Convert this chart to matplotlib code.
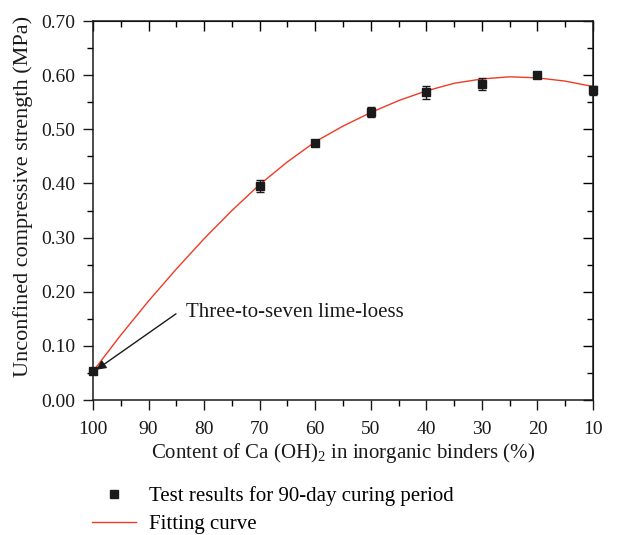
import numpy as np
import matplotlib
matplotlib.use("Agg")
import matplotlib.pyplot as plt
from matplotlib.lines import Line2D
from matplotlib.ticker import MultipleLocator, FormatStrFormatter

plt.rcParams.update({'font.family': 'Liberation Serif', 'font.size': 14,
                     'mathtext.fontset': 'custom', 'mathtext.rm': 'Liberation Serif'})

# test results (90-day curing)
ca_content = [100, 70, 60, 50, 40, 30, 20, 10]
strength = [0.053, 0.396, 0.475, 0.532, 0.568, 0.584, 0.600, 0.572]
strength_err = [0.003, 0.011, 0.004, 0.010, 0.012, 0.011, 0.003, 0.008]

# fitting curve
fit_x = [100, 95, 90, 85, 80, 75, 70, 65, 60, 55, 50, 45, 40, 35, 30, 25, 20, 15, 10]
fit_y = [0.053, 0.120, 0.183, 0.242, 0.298, 0.350, 0.398, 0.440, 0.477, 0.506,
         0.531, 0.553, 0.571, 0.585, 0.593, 0.597, 0.595, 0.589, 0.579]

red = '#ef3b24'
dark = '#1a1a1a'

fig = plt.figure(figsize=(6.21, 5.35), dpi=100)
ax = fig.add_axes([0.1498, 0.2523, 0.8052, 0.7084])

line, = ax.plot(fit_x, fit_y, color=red, lw=1.0, zorder=2, clip_on=False)
eb = ax.errorbar(ca_content, strength, yerr=strength_err, fmt='s', color=dark,
                 ms=6, elinewidth=1.0, capsize=3, capthick=1.0, zorder=3)
for art in eb.lines[0:1] + tuple(eb.lines[1]) + tuple(eb.lines[2]):
    art.set_clip_on(False)

ax.set_xlim(100, 10)
ax.set_ylim(0, 0.70)
ax.xaxis.set_major_locator(MultipleLocator(10))
ax.xaxis.set_minor_locator(MultipleLocator(5))
ax.yaxis.set_major_locator(MultipleLocator(0.1))
ax.yaxis.set_minor_locator(MultipleLocator(0.05))
ax.yaxis.set_major_formatter(FormatStrFormatter('%.2f'))
ax.tick_params(which='major', direction='out', length=7, width=1.0, labelsize=14, colors=dark)
ax.tick_params(axis='x', which='major', pad=8)
ax.tick_params(axis='y', which='major', pad=6)
ax.tick_params(which='minor', direction='out', length=4, width=1.0)
for s in ax.spines.values():
    s.set_linewidth(1.1)
    s.set_color(dark)

# inward ticks on top and right
top = ax.secondary_xaxis('top')
top.xaxis.set_major_locator(MultipleLocator(10))
top.xaxis.set_minor_locator(MultipleLocator(5))
top.tick_params(which='major', direction='in', length=7, width=1.0, labeltop=False)
top.tick_params(which='minor', direction='in', length=4, width=1.0)
right = ax.secondary_yaxis('right')
right.yaxis.set_major_locator(MultipleLocator(0.1))
right.yaxis.set_minor_locator(MultipleLocator(0.05))
right.tick_params(which='major', direction='in', length=7, width=1.0, labelright=False)
right.tick_params(which='minor', direction='in', length=4, width=1.0)

ax.set_xlabel(r'Content of Ca (OH)$_2$ in inorganic binders (%)', fontsize=15, color=dark, labelpad=2)
ax.set_ylabel('Unconfined compressive strength (MPa)', fontsize=16, color=dark)
ax.yaxis.set_label_coords(-0.12, 0.537)

ax.annotate('Three-to-seven lime-loess', xy=(99.4, 0.056), xytext=(83.3, 0.161),
            fontsize=15, color=dark, va='center', ha='left',
            arrowprops=dict(arrowstyle='-|>', color=dark, lw=1.0, mutation_scale=14,
                            shrinkA=0, shrinkB=0, relpos=(-0.045, 0.45)))

h_pts = Line2D([], [], ls='none', marker='s', ms=5.5, color=dark)
fig.legend([h_pts, line], ['Test results for 90-day curing period', 'Fitting curve'],
           loc='upper left', bbox_to_anchor=(0.132, 0.111), frameon=False, fontsize=15,
           handlelength=2.1, handletextpad=0.62, labelspacing=0.42, borderpad=0)

fig.savefig('out.png', dpi=100)
